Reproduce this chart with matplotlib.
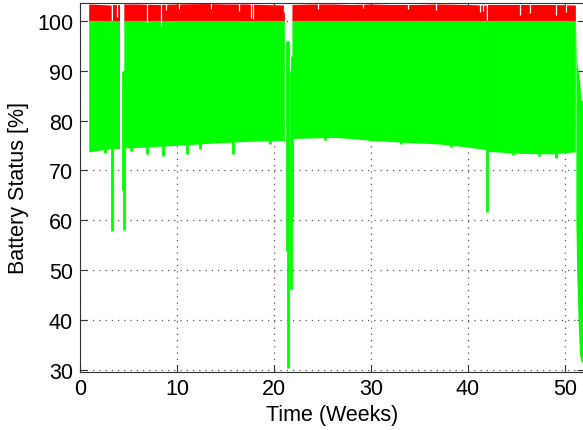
import numpy as np
import matplotlib
matplotlib.use("Agg")
import matplotlib.pyplot as plt

plt.rcParams['font.family'] = ['Liberation Sans', 'DejaVu Sans']

# ── Data ──────────────────────────────────────────────────────────────────────
# lower edge of the green band (battery minimum between charges); nan = no data
weeks   = [0.95, 1.05, 2.2, 3.2, 3.27, 3.35, 3.44, 4.15, 4.35, 4.57, 6.0, 8.0,
           10.0, 13.1, 15.0, 17.2, 19.0, 21.12, 21.5, 21.9, 24.0, 26.1, 28.0,
           30.0, 32.0, 34.7, 37.0, 39.9, 41.75, 41.93, 42.0, 42.06, 43.0,
           45.4, 48.8, 51.0, 51.12]
env_low = [73.8, 73.6, 74.0, 74.2, 74.2, np.nan, 74.3, 74.3, np.nan, 74.4,
           74.5, 74.7, 74.9, 75.3, 75.5, 75.7, 75.8, 75.9, np.nan, 76.3, 76.4,
           76.5, 76.3, 75.9, 75.7, 75.4, 75.2, 74.6, 74.1, 74.0, np.nan, 73.7,
           73.6, 73.3, 73.2, 73.6, 73.6]
red_top = [103.2, 103.3, 103.2, 103.1, 103.1, np.nan, 103.2, 103.2, np.nan,
           103.3, 103.3, 103.2, 103.3, 103.4, 103.3, 103.3, 103.2, 103.1,
           np.nan, 103.2, 103.3, 103.3, 103.2, 103.3, 103.2, 103.2, 103.3,
           103.2, 103.1, 103.1, np.nan, 103.2, 103.2, 103.2, 103.2, 103.1,
           103.1]

# deep discharges and small drops (vertical green lines)
dip_weeks = [3.35, 4.4, 4.5, 21.3, 21.48, 21.75, 21.9, 41.98,
             2.6, 5.3, 6.9, 8.6, 11.0, 12.4, 15.8, 19.6, 25.3, 33.1, 38.2,
             44.6, 47.3, 49.1]
dip_top   = [100, 90, 88, 96, 96, 90, 93, 100,
             76, 76, 76, 76, 76, 77, 76, 77, 77, 77, 76, 75, 75, 75]
dip_low   = [57.8, 66.0, 58.1, 53.8, 30.3, 46.1, 60.6, 61.6,
             73.5, 73.9, 73.2, 72.9, 73.2, 74.3, 73.3, 75.2, 76.0, 75.3,
             74.6, 73.0, 72.9, 72.4]

# white notches in the red band
notch_weeks = [3.8, 6.9, 8.4, 8.9, 10.2, 13.5, 16.4, 17.6, 17.8, 21.0, 24.5,
               29.2, 33.8, 36.7, 41.2, 41.5, 45.4, 46.4, 49.1, 50.1]
notch_low   = [100.8, 99.7, 99.0, 102.1, 102.3, 102.4, 102.0, 100.6, 100.4,
               101.8, 102.3, 102.5, 102.4, 102.2, 101.7, 101.9, 101.2, 101.6,
               101.2, 101.8]

# final discharge at the end of the year
tail_weeks = [51.12, 51.2, 51.35, 51.5, 51.65, 51.75, 51.9]
tail_top   = [100, 92, 90, 88, 84, 84, 84]
tail_low   = [60, 50, 40, 33, 31.5, 31.5, 32.0]

x_ticks = [0, 10, 20, 30, 40, 50]
y_ticks = [30, 40, 50, 60, 70, 80, 90, 100]

GREEN = '#00ff00'
RED   = '#ff0000'

# ── Plot ──────────────────────────────────────────────────────────────────────
fig = plt.figure(figsize=(5.83, 4.31), dpi=100)
ax = fig.add_axes([0.1372, 0.1357, 0.8652, 0.855])

ax.fill_between(weeks, env_low, 100, color=GREEN, lw=0)
ax.fill_between(weeks, 100, red_top, color=RED, lw=0)
ax.fill_between(tail_weeks, tail_low, tail_top, color=GREEN, lw=0)
ax.vlines(dip_weeks, dip_low, dip_top, color=GREEN, lw=2.0)
ax.vlines(notch_weeks, notch_low, 104, color='white', lw=0.9)

ax.set_xlim(0, 52)
ax.set_ylim(29.6, 103.6)
ax.set_xticks(x_ticks)
ax.set_yticks(y_ticks)
ax.set_axisbelow(True)
ax.grid(True, color='#555555', lw=0.9, linestyle=(0, (1, 4)))
ax.tick_params(direction='in', top=True, right=True, length=5,
               labelsize=15.5, color='#333333', pad=5)
for s in ax.spines.values():
    s.set_color('#333333')
    s.set_linewidth(0.8)

ax.set_xlabel('Time (Weeks)', fontsize=15.5, labelpad=3)
ax.set_ylabel('Battery Status [%]', fontsize=15.5, labelpad=6)

fig.savefig('out.png', dpi=100)
